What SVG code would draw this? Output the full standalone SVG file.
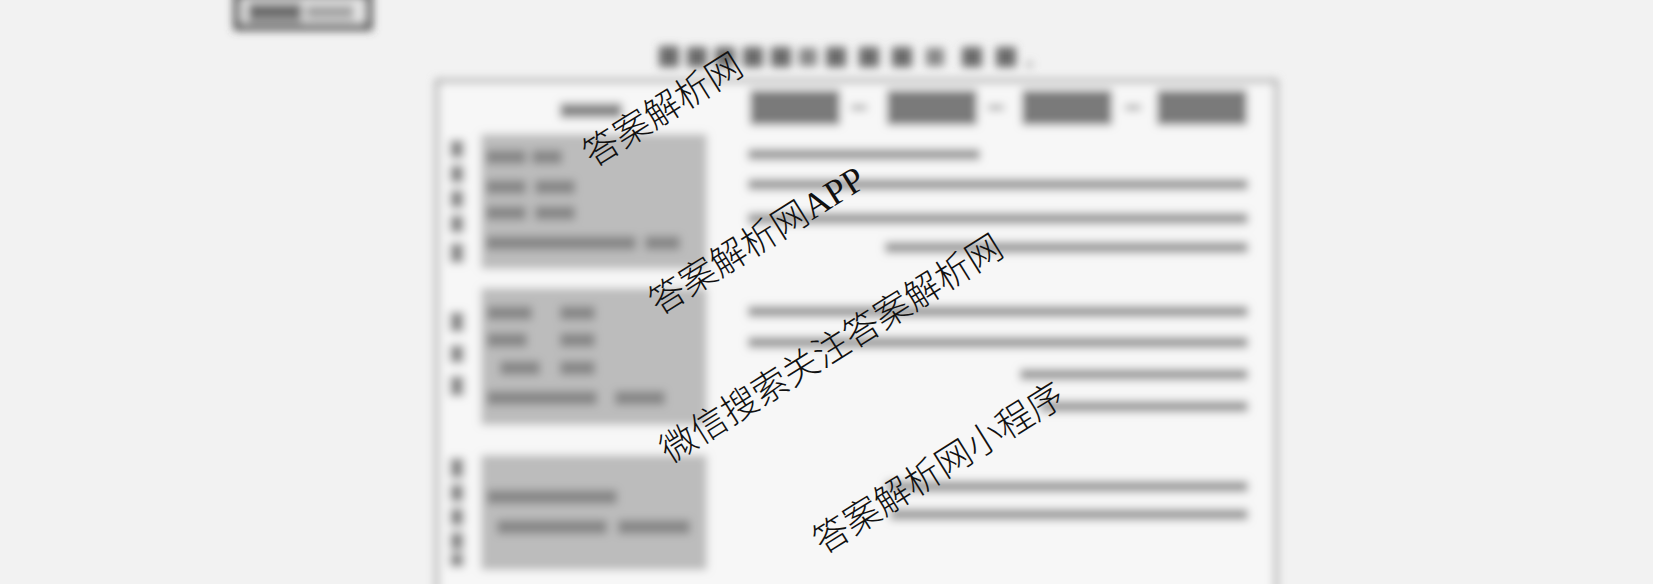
<svg xmlns="http://www.w3.org/2000/svg" width="1653" height="584" viewBox="0 0 1653 584">
<style>
.bar{fill:#979797}
.tbox{fill:#7a7a7a}
.gbox{fill:#bcbcbc}
.blob{fill:#878787}
.vblob{fill:#8a8a8a}
.wm{font-family:"Liberation Serif","Noto Sans CJK SC",sans-serif;font-size:36px;font-weight:300;fill:#111}
</style>
<defs>
<filter id="blur" filterUnits="userSpaceOnUse" x="0" y="0" width="1653" height="584">
<feGaussianBlur stdDeviation="4.3"/>
</filter>
</defs>
<rect width="1653" height="584" fill="#f2f2f2"/>
<g id="page" filter="url(#blur)">
  <g id="tag">
    <rect x="237" y="-6" width="132" height="33" fill="#e8e8e8" stroke="#4f4f4f" stroke-width="7"/>
    <rect x="248" y="3" width="54" height="18" fill="#6e6e6e"/>
    <rect x="306" y="5" width="48" height="14" fill="#a4a4a4"/>
  </g>
  <g id="title" fill="#6a6a6a">
    <rect x="659" y="46" width="20" height="21"/>
    <rect x="687" y="47" width="20" height="20"/>
    <rect x="715" y="47" width="20" height="20"/>
    <rect x="743" y="47" width="20" height="20"/>
    <rect x="771" y="47" width="20" height="20"/>
    <rect x="799" y="48" width="18" height="18" fill="#888"/>
    <rect x="826" y="47" width="20" height="20"/>
    <rect x="859" y="47" width="20" height="20"/>
    <rect x="892" y="47" width="20" height="20"/>
    <rect x="926" y="48" width="18" height="18" fill="#888"/>
    <rect x="962" y="47" width="20" height="20"/>
    <rect x="996" y="47" width="20" height="20"/>
    <rect x="1027" y="62" width="5" height="5" fill="#999"/>
  </g>
  <rect id="frame" x="437" y="81" width="839" height="530" fill="#f7f7f7" stroke="#9a9a9a" stroke-width="3.5"/>
  <rect x="560" y="103" width="62" height="15" class="blob"/>
  <g id="row1">
    <rect class="tbox" x="750" y="90" width="90" height="35"/>
    <rect class="tbox" x="887" y="90" width="90" height="35"/>
    <rect class="tbox" x="1022" y="90" width="90" height="35"/>
    <rect class="tbox" x="1157" y="90" width="90" height="35"/>
    <rect fill="#9c9c9c" x="851" y="105" width="16" height="5"/>
    <rect fill="#9c9c9c" x="988" y="105" width="16" height="5"/>
    <rect fill="#9c9c9c" x="1125" y="105" width="16" height="5"/>
  </g>
  <g id="bars">
    <rect class="bar" x="748" y="149" width="232" height="11"/>
    <rect class="bar" x="748" y="179" width="500" height="11"/>
    <rect class="bar" x="748" y="213" width="500" height="11"/>
    <rect class="bar" x="885" y="242" width="363" height="11"/>
    <rect class="bar" x="748" y="306" width="500" height="11"/>
    <rect class="bar" x="748" y="337" width="500" height="11"/>
    <rect class="bar" x="1020" y="369" width="228" height="11"/>
    <rect class="bar" x="1040" y="401" width="208" height="11"/>
    <rect class="bar" x="886" y="481" width="362" height="11"/>
    <rect class="bar" x="890" y="509" width="358" height="11"/>
  </g>
  <g id="box1">
    <rect class="gbox" x="481" y="134" width="226" height="135"/>
    <rect class="blob" x="486" y="150" width="40" height="14"/>
    <rect class="blob" x="532" y="150" width="30" height="14" fill="#9a9a9a"/>
    <rect class="blob" x="486" y="180" width="40" height="14"/>
    <rect class="blob" x="535" y="180" width="40" height="14"/>
    <rect class="blob" x="486" y="206" width="40" height="14"/>
    <rect class="blob" x="535" y="206" width="40" height="14"/>
    <rect class="blob" x="486" y="236" width="150" height="14"/>
    <rect class="blob" x="645" y="236" width="35" height="14"/>
    <rect class="vblob" x="450" y="140" width="14" height="18"/>
    <rect class="vblob" x="450" y="165" width="14" height="18"/>
    <rect class="vblob" x="450" y="190" width="14" height="18"/>
    <rect class="vblob" x="450" y="215" width="14" height="18"/>
    <rect class="vblob" x="450" y="243" width="14" height="20"/>
  </g>
  <g id="box2">
    <rect class="gbox" x="481" y="288" width="226" height="137"/>
    <rect class="blob" x="487" y="306" width="45" height="14"/>
    <rect class="blob" x="560" y="306" width="35" height="14"/>
    <rect class="blob" x="487" y="333" width="40" height="14"/>
    <rect class="blob" x="560" y="333" width="35" height="14"/>
    <rect class="blob" x="500" y="361" width="40" height="14"/>
    <rect class="blob" x="560" y="361" width="35" height="14"/>
    <rect class="blob" x="487" y="391" width="110" height="14"/>
    <rect class="blob" x="615" y="391" width="50" height="14"/>
    <rect class="vblob" x="450" y="312" width="14" height="20"/>
    <rect class="vblob" x="450" y="345" width="14" height="18"/>
    <rect class="vblob" x="450" y="376" width="14" height="20"/>
  </g>
  <g id="box3">
    <rect class="gbox" x="481" y="455" width="226" height="115"/>
    <rect class="blob" x="487" y="490" width="130" height="14"/>
    <rect class="blob" x="497" y="520" width="110" height="14"/>
    <rect class="blob" x="618" y="520" width="72" height="14" fill="#777"/>
    <rect class="vblob" x="450" y="458" width="14" height="20"/>
    <rect class="vblob" x="450" y="484" width="14" height="18"/>
    <rect class="vblob" x="450" y="508" width="14" height="18"/>
    <rect class="vblob" x="450" y="532" width="14" height="18"/>
    <rect class="vblob" x="450" y="553" width="14" height="14"/>
  </g>
</g>
<g id="watermarks">
  <text class="wm" transform="translate(593,168) rotate(-32)">答案解析网</text>
  <text class="wm" transform="translate(659,316) rotate(-32)">答案解析网APP</text>
  <text class="wm" transform="translate(670,464) rotate(-32)">微信搜索关注答案解析网</text>
  <text class="wm" transform="translate(823,555) rotate(-32)">答案解析网小程序</text>
</g>
</svg>
